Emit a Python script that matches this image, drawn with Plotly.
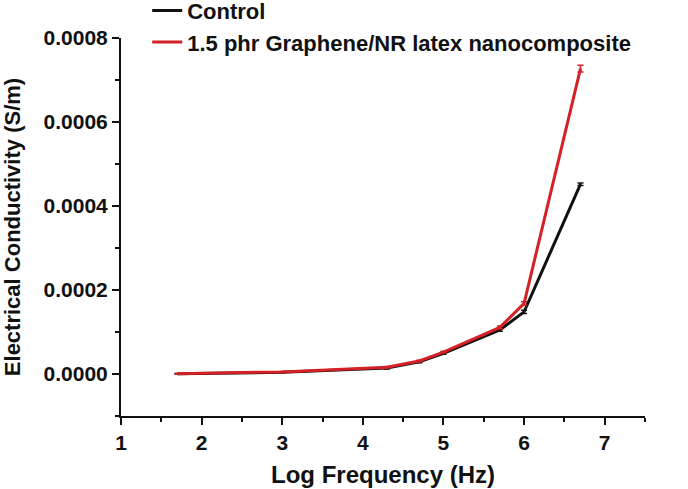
import plotly.graph_objects as go

log_freq = [1.7, 3.0, 4.3, 4.7, 5.0, 5.7, 6.0, 6.7]
control = [0.0000005, 0.000004, 0.000014, 0.000029, 0.000049, 0.000105, 0.000148, 0.000452]
control_err = [0.0000005, 0.000001, 0.000002, 0.000002, 0.000002, 0.000003, 0.000004, 0.000003]
graphene = [0.0000008, 0.000005, 0.000016, 0.000031, 0.000052, 0.000111, 0.000168, 0.000727]
graphene_err = [0.0000005, 0.000001, 0.000002, 0.000002, 0.000002, 0.000003, 0.000004, 0.000008]

x_ticks = [1, 2, 3, 4, 5, 6, 7]
y_ticks = [0.0000, 0.0002, 0.0004, 0.0006, 0.0008]

FONT = "Liberation Sans, Arial, sans-serif"

fig = go.Figure()
fig.add_trace(go.Scatter(
    x=log_freq, y=control, mode="lines", name="<b>Control</b>",
    line=dict(color="#111111", width=3),
    error_y=dict(type="data", array=control_err, color="#111111", thickness=1.5, width=3),
))
fig.add_trace(go.Scatter(
    x=log_freq, y=graphene, mode="lines", name="<b>1.5 phr Graphene/NR latex nanocomposite</b>",
    line=dict(color="#d42027", width=3),
    error_y=dict(type="data", array=graphene_err, color="#d42027", thickness=1.5, width=3),
))

axis_common = dict(
    showgrid=False, zeroline=False, showline=True, linecolor="#111111", linewidth=2,
    ticks="outside", ticklen=7, tickwidth=2, tickcolor="#111111",
    tickfont=dict(family=FONT, size=21, color="#111111", weight="bold"),
    automargin=False,
)
fig.update_xaxes(
    range=[1, 7.5], tickvals=x_ticks, ticktext=[str(v) for v in x_ticks],
    minor=dict(dtick=0.5, tick0=1, ticks="outside", ticklen=4, tickwidth=2, tickcolor="#111111"),
    title=dict(text="<b>Log Frequency (Hz)</b>", font=dict(family=FONT, size=24, color="#111111"), standoff=13),
    **axis_common,
)
fig.update_yaxes(
    range=[-0.0001, 0.0008], tickvals=y_ticks, ticktext=[f"{v:.4f}" for v in y_ticks],
    minor=dict(dtick=0.0001, tick0=0, ticks="outside", ticklen=4, tickwidth=2, tickcolor="#111111"),
    title=dict(text="<b>Electrical Conductivity (S/m)</b>", font=dict(family=FONT, size=22, color="#111111"), standoff=19),
    **axis_common,
)
fig.update_layout(
    width=688, height=489,
    margin=dict(l=121, r=43, t=38, b=73, autoexpand=False),
    paper_bgcolor="white", plot_bgcolor="white",
    showlegend=True,
    legend=dict(
        x=0.05, y=1.128, xanchor="left", yanchor="top",
        font=dict(family=FONT, size=22, color="#111111"),
        bgcolor="rgba(0,0,0,0)", tracegroupgap=0,
    ),
)
fig.write_html("out.html", config={"displayModeBar": False},
               post_script="document.body.style.margin='0';")
